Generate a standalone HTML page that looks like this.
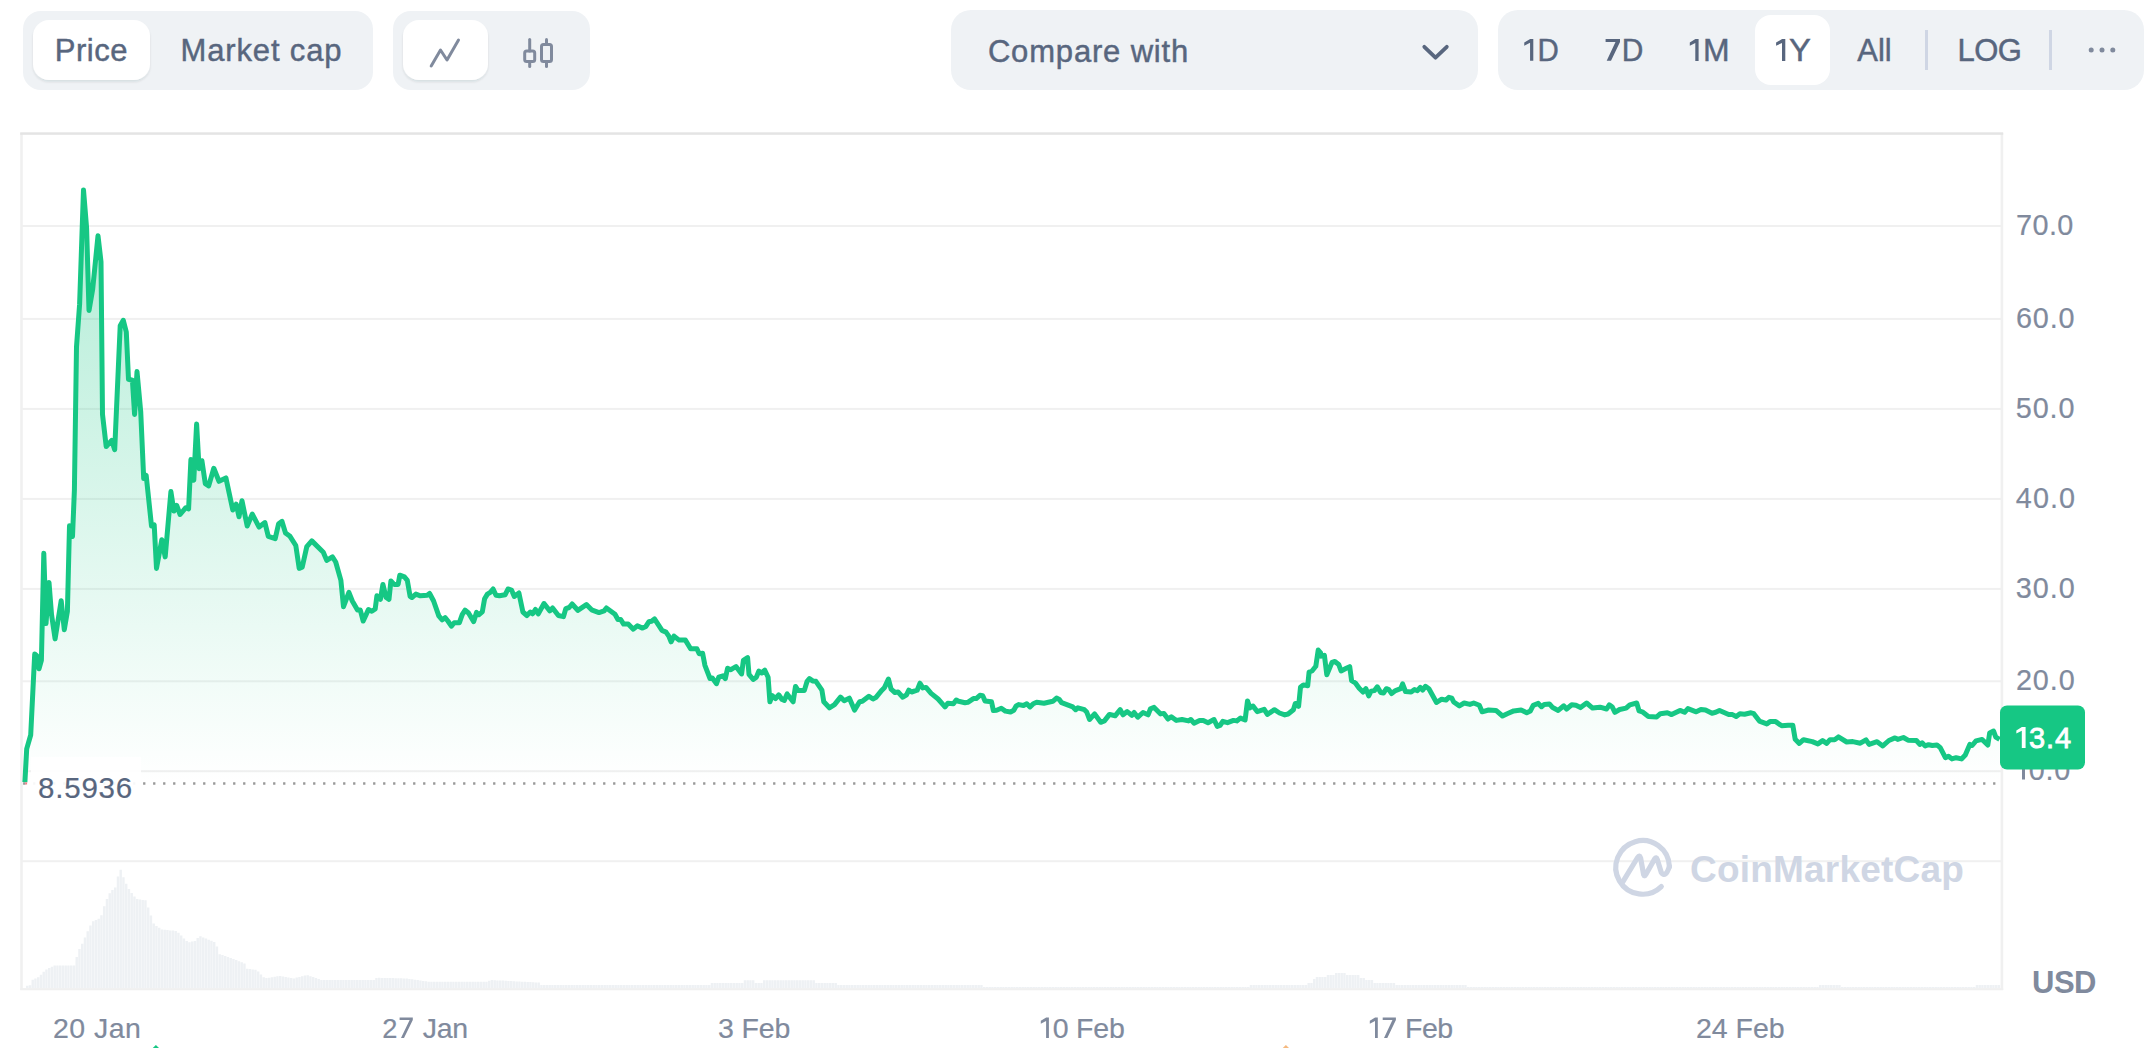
<!DOCTYPE html>
<html><head><meta charset="utf-8"><title>Chart</title>
<style>
html,body{margin:0;padding:0;background:#fff;width:2153px;height:1048px;overflow:hidden}
svg{display:block;font-family:"Liberation Sans",sans-serif}
.t{fill:#58667e;font-size:31px;stroke:#58667e;stroke-width:0.7px;paint-order:stroke}
.ax{fill:#808a9d;font-size:28px;stroke:#808a9d;stroke-width:0.35px}
</style></head><body>
<svg width="2153" height="1048" viewBox="0 0 2153 1048">
<defs>
<linearGradient id="gf" gradientUnits="userSpaceOnUse" x1="0" y1="190" x2="0" y2="783">
<stop offset="0" stop-color="#16c784" stop-opacity="0.34"/>
<stop offset="1" stop-color="#16c784" stop-opacity="0"/>
</linearGradient>
<filter id="sh" x="-20%" y="-20%" width="140%" height="150%">
<feDropShadow dx="0" dy="2" stdDeviation="1.1" flood-color="#1e2a40" flood-opacity="0.10"/>
</filter>
</defs>

<rect x="23" y="11" width="350" height="79" rx="18" fill="#eff2f5"/>
<rect x="33" y="20" width="117" height="60" rx="16" fill="#fff" filter="url(#sh)"/>
<text x="54.8" y="61" font-size="31" font-weight="normal" fill="#58667e" stroke="#58667e" stroke-width="0.45" textLength="72.74" lengthAdjust="spacing">Price</text>
<text x="180.6" y="61" font-size="31" font-weight="normal" fill="#58667e" stroke="#58667e" stroke-width="0.45" textLength="160.94" lengthAdjust="spacing">Market cap</text>
<rect x="393" y="11" width="197" height="79" rx="18" fill="#eff2f5"/>
<rect x="403" y="20" width="85" height="60" rx="16" fill="#fff" filter="url(#sh)"/>
<polyline points="431.2,66 440.5,50 447,60 458.5,40" fill="none" stroke="#808a9d" stroke-width="3" stroke-linecap="round" stroke-linejoin="round"/>
<g fill="none" stroke="#808a9d" stroke-width="3" stroke-linecap="round"><line x1="529.7" y1="39.5" x2="529.7" y2="51"/><line x1="529.7" y1="61.5" x2="529.7" y2="66.5"/><rect x="524.7" y="51" width="10" height="10.5" rx="2"/><line x1="546.5" y1="39.5" x2="546.5" y2="44.5"/><line x1="546.5" y1="61.5" x2="546.5" y2="66.5"/><rect x="541.5" y="44.5" width="10" height="17" rx="2"/></g>
<rect x="951" y="10" width="527" height="80" rx="20" fill="#eff2f5"/>
<text x="987.9" y="61.6" font-size="31" font-weight="normal" fill="#58667e" stroke="#58667e" stroke-width="0.45" textLength="200.35" lengthAdjust="spacing">Compare with</text>
<polyline points="1424.3,46.8 1435.5,57.7 1446.8,46.8" fill="none" stroke="#58667e" stroke-width="3.8" stroke-linecap="round" stroke-linejoin="round"/>
<rect x="1498" y="10" width="646" height="80" rx="20" fill="#eff2f5"/>
<rect x="1755" y="15" width="75" height="70" rx="16" fill="#fff"/>
<text x="1537.5" y="61.2" font-size="31" font-weight="normal" fill="#58667e" stroke="#58667e" stroke-width="0.45" textLength="21.29" lengthAdjust="spacingAndGlyphs">D</text>
<text x="1621.8" y="61.2" font-size="31" font-weight="normal" fill="#58667e" stroke="#58667e" stroke-width="0.45" textLength="21.59" lengthAdjust="spacingAndGlyphs">D</text>
<text x="1702.95" y="61.2" font-size="31" font-weight="normal" fill="#58667e" stroke="#58667e" stroke-width="0.45" textLength="26.58" lengthAdjust="spacingAndGlyphs">M</text>
<text x="1788.9" y="61.2" font-size="31" font-weight="normal" fill="#58667e" stroke="#58667e" stroke-width="0.45" textLength="21.89" lengthAdjust="spacingAndGlyphs">Y</text>
<text x="1857.2" y="61.2" font-size="31" font-weight="normal" fill="#58667e" stroke="#58667e" stroke-width="0.45" textLength="34.55" lengthAdjust="spacing">All</text>
<text x="1957.5" y="61.2" font-size="31" font-weight="normal" fill="#58667e" stroke="#58667e" stroke-width="0.45" textLength="64.27" lengthAdjust="spacing">LOG</text>
<path d="M1533.30,39.04 L1533.30,60.87 L1530.06,60.87 L1530.06,42.86 L1524.26,45.76 L1524.26,42.55 L1530.16,39.04 Z" fill="#58667e"/>
<path d="M1605.60,38.90 L1620.00,38.90 L1620.00,42.10 L1611.00,60.80 L1606.70,60.80 L1615.49,42.10 L1605.60,42.10 Z" fill="#58667e"/>
<path d="M1698.60,39.05 L1698.60,61.00 L1695.30,61.00 L1695.30,42.89 L1689.80,45.81 L1689.80,42.58 L1695.40,39.05 Z" fill="#58667e"/>
<path d="M1785.30,39.05 L1785.30,61.00 L1782.00,61.00 L1782.00,42.89 L1776.10,45.81 L1776.10,42.58 L1782.10,39.05 Z" fill="#58667e"/>
<rect x="1925" y="30" width="3" height="40" fill="#cfd6e4"/>
<rect x="2049" y="30" width="3" height="40" fill="#cfd6e4"/>
<circle cx="2091.2" cy="50" r="2.5" fill="#808a9d"/>
<circle cx="2102" cy="50" r="2.5" fill="#808a9d"/>
<circle cx="2112.8" cy="50" r="2.5" fill="#808a9d"/>
<rect x="22" y="225.0" width="1979" height="2" fill="#f0f0f0"/>
<rect x="22" y="317.9" width="1979" height="2" fill="#f0f0f0"/>
<rect x="22" y="407.9" width="1979" height="2" fill="#f0f0f0"/>
<rect x="22" y="497.9" width="1979" height="2" fill="#f0f0f0"/>
<rect x="22" y="587.9" width="1979" height="2" fill="#f0f0f0"/>
<rect x="22" y="680.3" width="1979" height="2" fill="#f0f0f0"/>
<rect x="22" y="770.2" width="1979" height="2" fill="#f0f0f0"/>
<rect x="22" y="860.2" width="1979" height="2" fill="#f0f0f0"/>
<rect x="20.2" y="133" width="2.6" height="857" fill="#f0f0f0"/>
<rect x="2000.6" y="133" width="2.6" height="857" fill="#f0f0f0"/>
<rect x="20.2" y="988.1" width="1983" height="2.2" fill="#f0f0f0"/>
<rect x="20.2" y="132.3" width="1983" height="2.5" fill="#e4e4e4"/>
<path d="M26.00,985.7h2.4V988h-2.4ZM28.75,985.2h2.4V988h-2.4ZM31.50,979.8h2.4V988h-2.4ZM34.25,978.5h2.4V988h-2.4ZM37.00,977.3h2.4V988h-2.4ZM39.75,974.7h2.4V988h-2.4ZM42.50,971.7h2.4V988h-2.4ZM45.25,969.4h2.4V988h-2.4ZM48.00,968.0h2.4V988h-2.4ZM50.75,966.7h2.4V988h-2.4ZM53.50,965.4h2.4V988h-2.4ZM56.25,965.4h2.4V988h-2.4ZM59.00,965.4h2.4V988h-2.4ZM61.75,965.4h2.4V988h-2.4ZM64.50,965.4h2.4V988h-2.4ZM67.25,965.4h2.4V988h-2.4ZM70.00,965.4h2.4V988h-2.4ZM72.75,965.4h2.4V988h-2.4ZM75.50,956.9h2.4V988h-2.4ZM78.25,948.9h2.4V988h-2.4ZM81.00,943.7h2.4V988h-2.4ZM83.75,937.6h2.4V988h-2.4ZM86.50,931.2h2.4V988h-2.4ZM89.25,925.6h2.4V988h-2.4ZM92.00,921.2h2.4V988h-2.4ZM94.75,920.0h2.4V988h-2.4ZM97.50,918.8h2.4V988h-2.4ZM100.25,915.2h2.4V988h-2.4ZM103.00,906.2h2.4V988h-2.4ZM105.75,899.0h2.4V988h-2.4ZM108.50,893.2h2.4V988h-2.4ZM111.25,890.0h2.4V988h-2.4ZM114.00,887.4h2.4V988h-2.4ZM116.75,876.5h2.4V988h-2.4ZM119.50,869.7h2.4V988h-2.4ZM122.25,877.3h2.4V988h-2.4ZM125.00,883.7h2.4V988h-2.4ZM127.75,889.0h2.4V988h-2.4ZM130.50,893.0h2.4V988h-2.4ZM133.25,896.5h2.4V988h-2.4ZM136.00,899.0h2.4V988h-2.4ZM138.75,899.4h2.4V988h-2.4ZM141.50,899.9h2.4V988h-2.4ZM144.25,900.3h2.4V988h-2.4ZM147.00,907.4h2.4V988h-2.4ZM149.75,915.4h2.4V988h-2.4ZM152.50,923.4h2.4V988h-2.4ZM155.25,926.1h2.4V988h-2.4ZM158.00,927.8h2.4V988h-2.4ZM160.75,929.4h2.4V988h-2.4ZM163.50,929.8h2.4V988h-2.4ZM166.25,930.1h2.4V988h-2.4ZM169.00,930.4h2.4V988h-2.4ZM171.75,930.6h2.4V988h-2.4ZM174.50,930.9h2.4V988h-2.4ZM177.25,932.7h2.4V988h-2.4ZM180.00,935.6h2.4V988h-2.4ZM182.75,938.5h2.4V988h-2.4ZM185.50,941.1h2.4V988h-2.4ZM188.25,942.3h2.4V988h-2.4ZM191.00,941.6h2.4V988h-2.4ZM193.75,940.9h2.4V988h-2.4ZM196.50,938.1h2.4V988h-2.4ZM199.25,936.3h2.4V988h-2.4ZM202.00,937.4h2.4V988h-2.4ZM204.75,938.5h2.4V988h-2.4ZM207.50,939.7h2.4V988h-2.4ZM210.25,940.8h2.4V988h-2.4ZM213.00,941.9h2.4V988h-2.4ZM215.75,946.5h2.4V988h-2.4ZM218.50,954.2h2.4V988h-2.4ZM221.25,955.1h2.4V988h-2.4ZM224.00,956.1h2.4V988h-2.4ZM226.75,957.0h2.4V988h-2.4ZM229.50,957.9h2.4V988h-2.4ZM232.25,958.9h2.4V988h-2.4ZM235.00,960.0h2.4V988h-2.4ZM237.75,961.2h2.4V988h-2.4ZM240.50,962.3h2.4V988h-2.4ZM243.25,963.5h2.4V988h-2.4ZM246.00,968.8h2.4V988h-2.4ZM248.75,969.1h2.4V988h-2.4ZM251.50,969.5h2.4V988h-2.4ZM254.25,969.8h2.4V988h-2.4ZM257.00,971.5h2.4V988h-2.4ZM259.75,974.4h2.4V988h-2.4ZM262.50,977.2h2.4V988h-2.4ZM265.25,978.1h2.4V988h-2.4ZM268.00,977.7h2.4V988h-2.4ZM270.75,977.2h2.4V988h-2.4ZM273.50,976.8h2.4V988h-2.4ZM276.25,976.3h2.4V988h-2.4ZM279.00,976.1h2.4V988h-2.4ZM281.75,976.6h2.4V988h-2.4ZM284.50,977.0h2.4V988h-2.4ZM287.25,977.5h2.4V988h-2.4ZM290.00,978.0h2.4V988h-2.4ZM292.75,978.4h2.4V988h-2.4ZM295.50,977.6h2.4V988h-2.4ZM298.25,976.9h2.4V988h-2.4ZM301.00,976.2h2.4V988h-2.4ZM303.75,975.5h2.4V988h-2.4ZM306.50,975.3h2.4V988h-2.4ZM309.25,976.2h2.4V988h-2.4ZM312.00,977.1h2.4V988h-2.4ZM314.75,978.0h2.4V988h-2.4ZM317.50,979.0h2.4V988h-2.4ZM320.25,979.9h2.4V988h-2.4ZM323.00,980.0h2.4V988h-2.4ZM325.75,980.0h2.4V988h-2.4ZM328.50,980.0h2.4V988h-2.4ZM331.25,980.0h2.4V988h-2.4ZM334.00,980.0h2.4V988h-2.4ZM336.75,980.0h2.4V988h-2.4ZM339.50,980.0h2.4V988h-2.4ZM342.25,980.0h2.4V988h-2.4ZM345.00,980.0h2.4V988h-2.4ZM347.75,980.0h2.4V988h-2.4ZM350.50,980.0h2.4V988h-2.4ZM353.25,980.0h2.4V988h-2.4ZM356.00,980.0h2.4V988h-2.4ZM358.75,980.0h2.4V988h-2.4ZM361.50,980.0h2.4V988h-2.4ZM364.25,980.0h2.4V988h-2.4ZM367.00,980.0h2.4V988h-2.4ZM369.75,980.0h2.4V988h-2.4ZM372.50,980.0h2.4V988h-2.4ZM375.25,978.1h2.4V988h-2.4ZM378.00,977.8h2.4V988h-2.4ZM380.75,977.9h2.4V988h-2.4ZM383.50,978.0h2.4V988h-2.4ZM386.25,978.0h2.4V988h-2.4ZM389.00,978.1h2.4V988h-2.4ZM391.75,978.1h2.4V988h-2.4ZM394.50,978.2h2.4V988h-2.4ZM397.25,978.2h2.4V988h-2.4ZM400.00,978.3h2.4V988h-2.4ZM402.75,978.4h2.4V988h-2.4ZM405.50,978.5h2.4V988h-2.4ZM408.25,978.9h2.4V988h-2.4ZM411.00,979.3h2.4V988h-2.4ZM413.75,979.7h2.4V988h-2.4ZM416.50,980.1h2.4V988h-2.4ZM419.25,980.5h2.4V988h-2.4ZM422.00,980.9h2.4V988h-2.4ZM424.75,981.3h2.4V988h-2.4ZM427.50,981.7h2.4V988h-2.4ZM430.25,981.7h2.4V988h-2.4ZM433.00,981.7h2.4V988h-2.4ZM435.75,981.7h2.4V988h-2.4ZM438.50,981.7h2.4V988h-2.4ZM441.25,981.7h2.4V988h-2.4ZM444.00,981.7h2.4V988h-2.4ZM446.75,981.7h2.4V988h-2.4ZM449.50,981.7h2.4V988h-2.4ZM452.25,981.7h2.4V988h-2.4ZM455.00,981.7h2.4V988h-2.4ZM457.75,981.7h2.4V988h-2.4ZM460.50,981.7h2.4V988h-2.4ZM463.25,981.7h2.4V988h-2.4ZM466.00,981.7h2.4V988h-2.4ZM468.75,981.7h2.4V988h-2.4ZM471.50,981.7h2.4V988h-2.4ZM474.25,981.7h2.4V988h-2.4ZM477.00,981.7h2.4V988h-2.4ZM479.75,981.7h2.4V988h-2.4ZM482.50,981.7h2.4V988h-2.4ZM485.25,981.7h2.4V988h-2.4ZM488.00,980.8h2.4V988h-2.4ZM490.75,980.1h2.4V988h-2.4ZM493.50,980.2h2.4V988h-2.4ZM496.25,980.4h2.4V988h-2.4ZM499.00,980.5h2.4V988h-2.4ZM501.75,980.6h2.4V988h-2.4ZM504.50,980.8h2.4V988h-2.4ZM507.25,980.9h2.4V988h-2.4ZM510.00,981.1h2.4V988h-2.4ZM512.75,981.2h2.4V988h-2.4ZM515.50,981.4h2.4V988h-2.4ZM518.25,981.5h2.4V988h-2.4ZM521.00,981.7h2.4V988h-2.4ZM523.75,981.8h2.4V988h-2.4ZM526.50,982.0h2.4V988h-2.4ZM529.25,982.1h2.4V988h-2.4ZM532.00,982.2h2.4V988h-2.4ZM534.75,982.4h2.4V988h-2.4ZM537.50,982.5h2.4V988h-2.4ZM540.25,985.0h2.4V988h-2.4ZM543.00,985.0h2.4V988h-2.4ZM545.75,985.0h2.4V988h-2.4ZM548.50,985.0h2.4V988h-2.4ZM551.25,985.0h2.4V988h-2.4ZM554.00,985.0h2.4V988h-2.4ZM556.75,985.0h2.4V988h-2.4ZM559.50,985.0h2.4V988h-2.4ZM562.25,985.0h2.4V988h-2.4ZM565.00,985.0h2.4V988h-2.4ZM567.75,985.0h2.4V988h-2.4ZM570.50,985.0h2.4V988h-2.4ZM573.25,985.0h2.4V988h-2.4ZM576.00,985.0h2.4V988h-2.4ZM578.75,985.0h2.4V988h-2.4ZM581.50,985.0h2.4V988h-2.4ZM584.25,985.0h2.4V988h-2.4ZM587.00,985.0h2.4V988h-2.4ZM589.75,985.0h2.4V988h-2.4ZM592.50,985.0h2.4V988h-2.4ZM595.25,985.0h2.4V988h-2.4ZM598.00,985.0h2.4V988h-2.4ZM600.75,985.0h2.4V988h-2.4ZM603.50,985.0h2.4V988h-2.4ZM606.25,985.0h2.4V988h-2.4ZM609.00,985.0h2.4V988h-2.4ZM611.75,985.0h2.4V988h-2.4ZM614.50,985.0h2.4V988h-2.4ZM617.25,985.0h2.4V988h-2.4ZM620.00,985.0h2.4V988h-2.4ZM622.75,985.0h2.4V988h-2.4ZM625.50,985.0h2.4V988h-2.4ZM628.25,985.0h2.4V988h-2.4ZM631.00,985.0h2.4V988h-2.4ZM633.75,985.0h2.4V988h-2.4ZM636.50,985.0h2.4V988h-2.4ZM639.25,985.0h2.4V988h-2.4ZM642.00,985.0h2.4V988h-2.4ZM644.75,985.0h2.4V988h-2.4ZM647.50,985.0h2.4V988h-2.4ZM650.25,985.0h2.4V988h-2.4ZM653.00,985.0h2.4V988h-2.4ZM655.75,985.0h2.4V988h-2.4ZM658.50,985.0h2.4V988h-2.4ZM661.25,985.0h2.4V988h-2.4ZM664.00,985.0h2.4V988h-2.4ZM666.75,985.0h2.4V988h-2.4ZM669.50,985.0h2.4V988h-2.4ZM672.25,985.0h2.4V988h-2.4ZM675.00,985.0h2.4V988h-2.4ZM677.75,985.0h2.4V988h-2.4ZM680.50,985.0h2.4V988h-2.4ZM683.25,985.0h2.4V988h-2.4ZM686.00,985.0h2.4V988h-2.4ZM688.75,985.0h2.4V988h-2.4ZM691.50,985.0h2.4V988h-2.4ZM694.25,985.0h2.4V988h-2.4ZM697.00,985.0h2.4V988h-2.4ZM699.75,985.0h2.4V988h-2.4ZM702.50,985.0h2.4V988h-2.4ZM705.25,985.0h2.4V988h-2.4ZM708.00,985.0h2.4V988h-2.4ZM710.75,983.0h2.4V988h-2.4ZM713.50,983.0h2.4V988h-2.4ZM716.25,983.0h2.4V988h-2.4ZM719.00,983.0h2.4V988h-2.4ZM721.75,983.0h2.4V988h-2.4ZM724.50,983.0h2.4V988h-2.4ZM727.25,983.0h2.4V988h-2.4ZM730.00,983.0h2.4V988h-2.4ZM732.75,983.0h2.4V988h-2.4ZM735.50,983.0h2.4V988h-2.4ZM738.25,983.0h2.4V988h-2.4ZM741.00,983.0h2.4V988h-2.4ZM743.75,980.3h2.4V988h-2.4ZM746.50,980.3h2.4V988h-2.4ZM749.25,980.3h2.4V988h-2.4ZM752.00,980.3h2.4V988h-2.4ZM754.75,983.0h2.4V988h-2.4ZM757.50,983.0h2.4V988h-2.4ZM760.25,983.0h2.4V988h-2.4ZM763.00,980.3h2.4V988h-2.4ZM765.75,980.3h2.4V988h-2.4ZM768.50,980.3h2.4V988h-2.4ZM771.25,980.3h2.4V988h-2.4ZM774.00,980.3h2.4V988h-2.4ZM776.75,980.3h2.4V988h-2.4ZM779.50,980.3h2.4V988h-2.4ZM782.25,980.3h2.4V988h-2.4ZM785.00,980.3h2.4V988h-2.4ZM787.75,980.3h2.4V988h-2.4ZM790.50,980.3h2.4V988h-2.4ZM793.25,980.3h2.4V988h-2.4ZM796.00,980.3h2.4V988h-2.4ZM798.75,980.3h2.4V988h-2.4ZM801.50,980.3h2.4V988h-2.4ZM804.25,980.3h2.4V988h-2.4ZM807.00,980.3h2.4V988h-2.4ZM809.75,980.3h2.4V988h-2.4ZM812.50,980.3h2.4V988h-2.4ZM815.25,983.0h2.4V988h-2.4ZM818.00,983.0h2.4V988h-2.4ZM820.75,983.0h2.4V988h-2.4ZM823.50,983.0h2.4V988h-2.4ZM826.25,983.0h2.4V988h-2.4ZM829.00,983.0h2.4V988h-2.4ZM831.75,983.0h2.4V988h-2.4ZM834.50,983.0h2.4V988h-2.4ZM837.25,985.0h2.4V988h-2.4ZM840.00,985.0h2.4V988h-2.4ZM842.75,985.0h2.4V988h-2.4ZM845.50,985.0h2.4V988h-2.4ZM848.25,985.0h2.4V988h-2.4ZM851.00,985.0h2.4V988h-2.4ZM853.75,985.0h2.4V988h-2.4ZM856.50,985.0h2.4V988h-2.4ZM859.25,985.0h2.4V988h-2.4ZM862.00,985.0h2.4V988h-2.4ZM864.75,985.0h2.4V988h-2.4ZM867.50,985.0h2.4V988h-2.4ZM870.25,985.0h2.4V988h-2.4ZM873.00,985.0h2.4V988h-2.4ZM875.75,985.0h2.4V988h-2.4ZM878.50,985.0h2.4V988h-2.4ZM881.25,985.0h2.4V988h-2.4ZM884.00,985.0h2.4V988h-2.4ZM886.75,985.0h2.4V988h-2.4ZM889.50,985.0h2.4V988h-2.4ZM892.25,985.0h2.4V988h-2.4ZM895.00,985.0h2.4V988h-2.4ZM897.75,985.0h2.4V988h-2.4ZM900.50,985.0h2.4V988h-2.4ZM903.25,985.0h2.4V988h-2.4ZM906.00,985.0h2.4V988h-2.4ZM908.75,985.0h2.4V988h-2.4ZM911.50,985.0h2.4V988h-2.4ZM914.25,985.0h2.4V988h-2.4ZM917.00,985.0h2.4V988h-2.4ZM919.75,985.0h2.4V988h-2.4ZM922.50,985.0h2.4V988h-2.4ZM925.25,985.0h2.4V988h-2.4ZM928.00,985.0h2.4V988h-2.4ZM930.75,985.0h2.4V988h-2.4ZM933.50,985.0h2.4V988h-2.4ZM936.25,985.0h2.4V988h-2.4ZM939.00,985.0h2.4V988h-2.4ZM941.75,985.0h2.4V988h-2.4ZM944.50,985.0h2.4V988h-2.4ZM947.25,985.0h2.4V988h-2.4ZM950.00,985.0h2.4V988h-2.4ZM952.75,985.0h2.4V988h-2.4ZM955.50,985.0h2.4V988h-2.4ZM958.25,985.0h2.4V988h-2.4ZM961.00,985.0h2.4V988h-2.4ZM963.75,985.0h2.4V988h-2.4ZM966.50,985.0h2.4V988h-2.4ZM969.25,985.0h2.4V988h-2.4ZM972.00,985.0h2.4V988h-2.4ZM974.75,985.0h2.4V988h-2.4ZM977.50,985.0h2.4V988h-2.4ZM980.25,985.0h2.4V988h-2.4ZM983.00,987.0h2.4V988h-2.4ZM985.75,987.0h2.4V988h-2.4ZM988.50,987.0h2.4V988h-2.4ZM991.25,987.0h2.4V988h-2.4ZM994.00,987.0h2.4V988h-2.4ZM996.75,987.0h2.4V988h-2.4ZM999.50,987.0h2.4V988h-2.4ZM1002.25,987.0h2.4V988h-2.4ZM1005.00,987.0h2.4V988h-2.4ZM1007.75,987.0h2.4V988h-2.4ZM1010.50,987.0h2.4V988h-2.4ZM1013.25,987.0h2.4V988h-2.4ZM1016.00,987.0h2.4V988h-2.4ZM1018.75,987.0h2.4V988h-2.4ZM1021.50,987.0h2.4V988h-2.4ZM1024.25,987.0h2.4V988h-2.4ZM1027.00,987.0h2.4V988h-2.4ZM1029.75,987.0h2.4V988h-2.4ZM1032.50,987.0h2.4V988h-2.4ZM1035.25,987.0h2.4V988h-2.4ZM1038.00,987.0h2.4V988h-2.4ZM1040.75,987.0h2.4V988h-2.4ZM1043.50,987.0h2.4V988h-2.4ZM1046.25,987.0h2.4V988h-2.4ZM1049.00,987.0h2.4V988h-2.4ZM1051.75,987.0h2.4V988h-2.4ZM1054.50,987.0h2.4V988h-2.4ZM1057.25,987.0h2.4V988h-2.4ZM1060.00,987.0h2.4V988h-2.4ZM1062.75,987.0h2.4V988h-2.4ZM1065.50,987.0h2.4V988h-2.4ZM1068.25,987.0h2.4V988h-2.4ZM1071.00,987.0h2.4V988h-2.4ZM1073.75,987.0h2.4V988h-2.4ZM1076.50,987.0h2.4V988h-2.4ZM1079.25,987.0h2.4V988h-2.4ZM1082.00,987.0h2.4V988h-2.4ZM1084.75,987.0h2.4V988h-2.4ZM1087.50,987.0h2.4V988h-2.4ZM1090.25,987.0h2.4V988h-2.4ZM1093.00,987.0h2.4V988h-2.4ZM1095.75,987.0h2.4V988h-2.4ZM1098.50,987.0h2.4V988h-2.4ZM1101.25,987.0h2.4V988h-2.4ZM1104.00,987.0h2.4V988h-2.4ZM1106.75,987.0h2.4V988h-2.4ZM1109.50,987.0h2.4V988h-2.4ZM1112.25,987.0h2.4V988h-2.4ZM1115.00,987.0h2.4V988h-2.4ZM1117.75,987.0h2.4V988h-2.4ZM1120.50,987.0h2.4V988h-2.4ZM1123.25,987.0h2.4V988h-2.4ZM1126.00,987.0h2.4V988h-2.4ZM1128.75,987.0h2.4V988h-2.4ZM1131.50,987.0h2.4V988h-2.4ZM1134.25,987.0h2.4V988h-2.4ZM1137.00,987.0h2.4V988h-2.4ZM1139.75,987.0h2.4V988h-2.4ZM1142.50,987.0h2.4V988h-2.4ZM1145.25,987.0h2.4V988h-2.4ZM1148.00,987.0h2.4V988h-2.4ZM1150.75,987.0h2.4V988h-2.4ZM1153.50,987.0h2.4V988h-2.4ZM1156.25,987.0h2.4V988h-2.4ZM1159.00,987.0h2.4V988h-2.4ZM1161.75,987.0h2.4V988h-2.4ZM1164.50,987.0h2.4V988h-2.4ZM1167.25,987.0h2.4V988h-2.4ZM1170.00,987.0h2.4V988h-2.4ZM1172.75,987.0h2.4V988h-2.4ZM1175.50,987.0h2.4V988h-2.4ZM1178.25,987.0h2.4V988h-2.4ZM1181.00,987.0h2.4V988h-2.4ZM1183.75,987.0h2.4V988h-2.4ZM1186.50,987.0h2.4V988h-2.4ZM1189.25,987.0h2.4V988h-2.4ZM1192.00,987.0h2.4V988h-2.4ZM1194.75,987.0h2.4V988h-2.4ZM1197.50,987.0h2.4V988h-2.4ZM1200.25,987.0h2.4V988h-2.4ZM1203.00,987.0h2.4V988h-2.4ZM1205.75,987.0h2.4V988h-2.4ZM1208.50,987.0h2.4V988h-2.4ZM1211.25,987.0h2.4V988h-2.4ZM1214.00,987.0h2.4V988h-2.4ZM1216.75,987.0h2.4V988h-2.4ZM1219.50,987.0h2.4V988h-2.4ZM1222.25,987.0h2.4V988h-2.4ZM1225.00,987.0h2.4V988h-2.4ZM1227.75,987.0h2.4V988h-2.4ZM1230.50,987.0h2.4V988h-2.4ZM1233.25,987.0h2.4V988h-2.4ZM1236.00,987.0h2.4V988h-2.4ZM1238.75,987.0h2.4V988h-2.4ZM1241.50,987.0h2.4V988h-2.4ZM1244.25,987.0h2.4V988h-2.4ZM1247.00,987.0h2.4V988h-2.4ZM1249.75,985.0h2.4V988h-2.4ZM1252.50,985.0h2.4V988h-2.4ZM1255.25,985.0h2.4V988h-2.4ZM1258.00,985.0h2.4V988h-2.4ZM1260.75,985.0h2.4V988h-2.4ZM1263.50,985.0h2.4V988h-2.4ZM1266.25,985.0h2.4V988h-2.4ZM1269.00,985.0h2.4V988h-2.4ZM1271.75,985.0h2.4V988h-2.4ZM1274.50,985.0h2.4V988h-2.4ZM1277.25,985.0h2.4V988h-2.4ZM1280.00,985.0h2.4V988h-2.4ZM1282.75,985.0h2.4V988h-2.4ZM1285.50,985.0h2.4V988h-2.4ZM1288.25,985.0h2.4V988h-2.4ZM1291.00,985.0h2.4V988h-2.4ZM1293.75,985.0h2.4V988h-2.4ZM1296.50,985.0h2.4V988h-2.4ZM1299.25,985.0h2.4V988h-2.4ZM1302.00,985.0h2.4V988h-2.4ZM1304.75,985.0h2.4V988h-2.4ZM1307.50,983.0h2.4V988h-2.4ZM1310.25,983.0h2.4V988h-2.4ZM1313.00,979.0h2.4V988h-2.4ZM1315.75,977.0h2.4V988h-2.4ZM1318.50,977.0h2.4V988h-2.4ZM1321.25,977.0h2.4V988h-2.4ZM1324.00,977.0h2.4V988h-2.4ZM1326.75,975.0h2.4V988h-2.4ZM1329.50,975.0h2.4V988h-2.4ZM1332.25,975.0h2.4V988h-2.4ZM1335.00,973.0h2.4V988h-2.4ZM1337.75,973.0h2.4V988h-2.4ZM1340.50,973.0h2.4V988h-2.4ZM1343.25,973.0h2.4V988h-2.4ZM1346.00,975.0h2.4V988h-2.4ZM1348.75,975.0h2.4V988h-2.4ZM1351.50,975.0h2.4V988h-2.4ZM1354.25,975.0h2.4V988h-2.4ZM1357.00,975.0h2.4V988h-2.4ZM1359.75,978.0h2.4V988h-2.4ZM1362.50,978.0h2.4V988h-2.4ZM1365.25,980.0h2.4V988h-2.4ZM1368.00,980.0h2.4V988h-2.4ZM1370.75,980.0h2.4V988h-2.4ZM1373.50,983.0h2.4V988h-2.4ZM1376.25,983.0h2.4V988h-2.4ZM1379.00,983.0h2.4V988h-2.4ZM1381.75,983.0h2.4V988h-2.4ZM1384.50,983.0h2.4V988h-2.4ZM1387.25,983.0h2.4V988h-2.4ZM1390.00,983.0h2.4V988h-2.4ZM1392.75,983.0h2.4V988h-2.4ZM1395.50,985.0h2.4V988h-2.4ZM1398.25,985.0h2.4V988h-2.4ZM1401.00,985.0h2.4V988h-2.4ZM1403.75,985.0h2.4V988h-2.4ZM1406.50,985.0h2.4V988h-2.4ZM1409.25,985.0h2.4V988h-2.4ZM1412.00,985.0h2.4V988h-2.4ZM1414.75,985.0h2.4V988h-2.4ZM1417.50,985.0h2.4V988h-2.4ZM1420.25,985.0h2.4V988h-2.4ZM1423.00,985.0h2.4V988h-2.4ZM1425.75,985.0h2.4V988h-2.4ZM1428.50,985.0h2.4V988h-2.4ZM1431.25,985.0h2.4V988h-2.4ZM1434.00,985.0h2.4V988h-2.4ZM1436.75,985.0h2.4V988h-2.4ZM1439.50,985.0h2.4V988h-2.4ZM1442.25,985.0h2.4V988h-2.4ZM1445.00,985.0h2.4V988h-2.4ZM1447.75,985.0h2.4V988h-2.4ZM1450.50,985.0h2.4V988h-2.4ZM1453.25,985.0h2.4V988h-2.4ZM1456.00,985.0h2.4V988h-2.4ZM1458.75,985.0h2.4V988h-2.4ZM1461.50,985.0h2.4V988h-2.4ZM1464.25,985.0h2.4V988h-2.4ZM1467.00,987.0h2.4V988h-2.4ZM1469.75,987.0h2.4V988h-2.4ZM1472.50,987.0h2.4V988h-2.4ZM1475.25,987.0h2.4V988h-2.4ZM1478.00,987.0h2.4V988h-2.4ZM1480.75,987.0h2.4V988h-2.4ZM1483.50,987.0h2.4V988h-2.4ZM1486.25,987.0h2.4V988h-2.4ZM1489.00,987.0h2.4V988h-2.4ZM1491.75,987.0h2.4V988h-2.4ZM1494.50,987.0h2.4V988h-2.4ZM1497.25,987.0h2.4V988h-2.4ZM1500.00,987.0h2.4V988h-2.4ZM1502.75,987.0h2.4V988h-2.4ZM1505.50,987.0h2.4V988h-2.4ZM1508.25,987.0h2.4V988h-2.4ZM1511.00,987.0h2.4V988h-2.4ZM1513.75,987.0h2.4V988h-2.4ZM1516.50,987.0h2.4V988h-2.4ZM1519.25,987.0h2.4V988h-2.4ZM1522.00,987.0h2.4V988h-2.4ZM1524.75,987.0h2.4V988h-2.4ZM1527.50,987.0h2.4V988h-2.4ZM1530.25,987.0h2.4V988h-2.4ZM1533.00,987.0h2.4V988h-2.4ZM1535.75,987.0h2.4V988h-2.4ZM1538.50,987.0h2.4V988h-2.4ZM1541.25,987.0h2.4V988h-2.4ZM1544.00,987.0h2.4V988h-2.4ZM1546.75,987.0h2.4V988h-2.4ZM1549.50,987.0h2.4V988h-2.4ZM1552.25,987.0h2.4V988h-2.4ZM1555.00,987.0h2.4V988h-2.4ZM1557.75,987.0h2.4V988h-2.4ZM1560.50,987.0h2.4V988h-2.4ZM1563.25,987.0h2.4V988h-2.4ZM1566.00,987.0h2.4V988h-2.4ZM1568.75,987.0h2.4V988h-2.4ZM1571.50,987.0h2.4V988h-2.4ZM1574.25,987.0h2.4V988h-2.4ZM1577.00,987.0h2.4V988h-2.4ZM1579.75,987.0h2.4V988h-2.4ZM1582.50,987.0h2.4V988h-2.4ZM1585.25,987.0h2.4V988h-2.4ZM1588.00,987.0h2.4V988h-2.4ZM1590.75,987.0h2.4V988h-2.4ZM1593.50,987.0h2.4V988h-2.4ZM1596.25,987.0h2.4V988h-2.4ZM1599.00,987.0h2.4V988h-2.4ZM1601.75,987.0h2.4V988h-2.4ZM1604.50,987.0h2.4V988h-2.4ZM1607.25,987.0h2.4V988h-2.4ZM1610.00,987.0h2.4V988h-2.4ZM1612.75,987.0h2.4V988h-2.4ZM1615.50,987.0h2.4V988h-2.4ZM1618.25,987.0h2.4V988h-2.4ZM1621.00,987.0h2.4V988h-2.4ZM1623.75,987.0h2.4V988h-2.4ZM1626.50,987.0h2.4V988h-2.4ZM1629.25,987.0h2.4V988h-2.4ZM1632.00,987.0h2.4V988h-2.4ZM1634.75,987.0h2.4V988h-2.4ZM1637.50,987.0h2.4V988h-2.4ZM1640.25,987.0h2.4V988h-2.4ZM1643.00,987.0h2.4V988h-2.4ZM1645.75,987.0h2.4V988h-2.4ZM1648.50,987.0h2.4V988h-2.4ZM1651.25,987.0h2.4V988h-2.4ZM1654.00,987.0h2.4V988h-2.4ZM1656.75,987.0h2.4V988h-2.4ZM1659.50,987.0h2.4V988h-2.4ZM1662.25,987.0h2.4V988h-2.4ZM1665.00,987.0h2.4V988h-2.4ZM1667.75,987.0h2.4V988h-2.4ZM1670.50,987.0h2.4V988h-2.4ZM1673.25,987.0h2.4V988h-2.4ZM1676.00,987.0h2.4V988h-2.4ZM1678.75,987.0h2.4V988h-2.4ZM1681.50,987.0h2.4V988h-2.4ZM1684.25,987.0h2.4V988h-2.4ZM1687.00,987.0h2.4V988h-2.4ZM1689.75,987.0h2.4V988h-2.4ZM1692.50,987.0h2.4V988h-2.4ZM1695.25,987.0h2.4V988h-2.4ZM1698.00,987.0h2.4V988h-2.4ZM1700.75,987.0h2.4V988h-2.4ZM1703.50,987.0h2.4V988h-2.4ZM1706.25,987.0h2.4V988h-2.4ZM1709.00,987.0h2.4V988h-2.4ZM1711.75,987.0h2.4V988h-2.4ZM1714.50,987.0h2.4V988h-2.4ZM1717.25,987.0h2.4V988h-2.4ZM1720.00,987.0h2.4V988h-2.4ZM1722.75,987.0h2.4V988h-2.4ZM1725.50,987.0h2.4V988h-2.4ZM1728.25,987.0h2.4V988h-2.4ZM1731.00,987.0h2.4V988h-2.4ZM1733.75,987.0h2.4V988h-2.4ZM1736.50,987.0h2.4V988h-2.4ZM1739.25,987.0h2.4V988h-2.4ZM1742.00,987.0h2.4V988h-2.4ZM1744.75,987.0h2.4V988h-2.4ZM1747.50,987.0h2.4V988h-2.4ZM1750.25,987.0h2.4V988h-2.4ZM1753.00,987.0h2.4V988h-2.4ZM1755.75,987.0h2.4V988h-2.4ZM1758.50,987.0h2.4V988h-2.4ZM1761.25,987.0h2.4V988h-2.4ZM1764.00,987.0h2.4V988h-2.4ZM1766.75,987.0h2.4V988h-2.4ZM1769.50,987.0h2.4V988h-2.4ZM1772.25,987.0h2.4V988h-2.4ZM1775.00,987.0h2.4V988h-2.4ZM1777.75,987.0h2.4V988h-2.4ZM1780.50,987.0h2.4V988h-2.4ZM1783.25,987.0h2.4V988h-2.4ZM1786.00,987.0h2.4V988h-2.4ZM1788.75,987.0h2.4V988h-2.4ZM1791.50,987.0h2.4V988h-2.4ZM1794.25,987.0h2.4V988h-2.4ZM1797.00,987.0h2.4V988h-2.4ZM1799.75,987.0h2.4V988h-2.4ZM1802.50,987.0h2.4V988h-2.4ZM1805.25,987.0h2.4V988h-2.4ZM1808.00,987.0h2.4V988h-2.4ZM1810.75,987.0h2.4V988h-2.4ZM1813.50,987.0h2.4V988h-2.4ZM1816.25,987.0h2.4V988h-2.4ZM1819.00,985.0h2.4V988h-2.4ZM1821.75,985.0h2.4V988h-2.4ZM1824.50,985.0h2.4V988h-2.4ZM1827.25,985.0h2.4V988h-2.4ZM1830.00,985.0h2.4V988h-2.4ZM1832.75,985.0h2.4V988h-2.4ZM1835.50,985.0h2.4V988h-2.4ZM1838.25,985.0h2.4V988h-2.4ZM1841.00,987.0h2.4V988h-2.4ZM1843.75,987.0h2.4V988h-2.4ZM1846.50,987.0h2.4V988h-2.4ZM1849.25,987.0h2.4V988h-2.4ZM1852.00,987.0h2.4V988h-2.4ZM1854.75,987.0h2.4V988h-2.4ZM1857.50,987.0h2.4V988h-2.4ZM1860.25,987.0h2.4V988h-2.4ZM1863.00,987.0h2.4V988h-2.4ZM1865.75,987.0h2.4V988h-2.4ZM1868.50,987.0h2.4V988h-2.4ZM1871.25,987.0h2.4V988h-2.4ZM1874.00,987.0h2.4V988h-2.4ZM1876.75,987.0h2.4V988h-2.4ZM1879.50,987.0h2.4V988h-2.4ZM1882.25,987.0h2.4V988h-2.4ZM1885.00,987.0h2.4V988h-2.4ZM1887.75,987.0h2.4V988h-2.4ZM1890.50,987.0h2.4V988h-2.4ZM1893.25,987.0h2.4V988h-2.4ZM1896.00,987.0h2.4V988h-2.4ZM1898.75,987.0h2.4V988h-2.4ZM1901.50,987.0h2.4V988h-2.4ZM1904.25,987.0h2.4V988h-2.4ZM1907.00,987.0h2.4V988h-2.4ZM1909.75,987.0h2.4V988h-2.4ZM1912.50,987.0h2.4V988h-2.4ZM1915.25,987.0h2.4V988h-2.4ZM1918.00,987.0h2.4V988h-2.4ZM1920.75,987.0h2.4V988h-2.4ZM1923.50,987.0h2.4V988h-2.4ZM1926.25,987.0h2.4V988h-2.4ZM1929.00,987.0h2.4V988h-2.4ZM1931.75,987.0h2.4V988h-2.4ZM1934.50,987.0h2.4V988h-2.4ZM1937.25,987.0h2.4V988h-2.4ZM1940.00,987.0h2.4V988h-2.4ZM1942.75,987.0h2.4V988h-2.4ZM1945.50,987.0h2.4V988h-2.4ZM1948.25,987.0h2.4V988h-2.4ZM1951.00,987.0h2.4V988h-2.4ZM1953.75,987.0h2.4V988h-2.4ZM1956.50,987.0h2.4V988h-2.4ZM1959.25,987.0h2.4V988h-2.4ZM1962.00,987.0h2.4V988h-2.4ZM1964.75,987.0h2.4V988h-2.4ZM1967.50,987.0h2.4V988h-2.4ZM1970.25,987.0h2.4V988h-2.4ZM1973.00,987.0h2.4V988h-2.4ZM1975.75,985.0h2.4V988h-2.4ZM1978.50,985.0h2.4V988h-2.4ZM1981.25,985.0h2.4V988h-2.4ZM1984.00,985.0h2.4V988h-2.4ZM1986.75,985.0h2.4V988h-2.4ZM1989.50,985.0h2.4V988h-2.4ZM1992.25,985.0h2.4V988h-2.4ZM1995.00,985.0h2.4V988h-2.4ZM1997.75,985.0h2.4V988h-2.4Z" fill="#eef1f4"/>
<g fill="none" stroke="#cfd6e4" stroke-width="5.2" stroke-linecap="round" stroke-linejoin="round"><path d="M1661.3,886.6 A26.8,26.8 0 1 1 1669.4,866.5"/><path d="M1622.8,881.8 L1637.6,857.5 Q1639.5,854.5 1640.6,858 L1643.6,874.5 Q1644.5,877 1645.8,874.6 L1654.6,859 Q1656.3,856.5 1657.3,859.5 L1661.3,872.5 Q1665.5,878.5 1669.4,866.5"/></g>
<text x="1690.0" y="882.2" font-size="37" font-weight="bold" fill="#cfd6e4" textLength="273.89" lengthAdjust="spacing">CoinMarketCap</text>
<path d="M24.9,782.2 L26.7,748.9 L30.7,735 L34.7,654 L36.8,655.7 L39,668.8 L41.4,660.3 L43.8,553.3 L46,623.6 L49,582.4 L51.5,614.4 L55.1,638.9 L61.2,600.7 L64.3,629.7 L67.4,611.4 L69.5,525.8 L72.5,536.5 L74.4,490.2 L76.5,347 L79.6,304.4 L83.5,189.9 L86.6,228 L89,310.5 L92.7,289 L98,235.7 L101,261.7 L102.5,414.4 L106.2,446.5 L111.7,440.4 L114.7,449.6 L120.2,325.8 L123.3,320.3 L126.3,332 L128.5,379.3 L132.4,380.2 L134.6,414.4 L137,371.6 L140.7,411.4 L143.7,478.6 L146.2,475.5 L151.5,526 L154.2,524.9 L156.5,568.4 L161.8,539.7 L165.2,556.9 L170.9,491.6 L173.9,511.1 L176.7,505.4 L180.1,514.5 L185.8,507.7 L188.6,508.8 L190.9,459.6 L193.8,480.2 L196.6,424 L199.1,468.7 L201.9,460.7 L205.3,483.6 L208.7,485.9 L213.8,468.3 L219,481.3 L225.9,477.9 L232.8,510 L236.2,504.2 L239,516.8 L242,500.8 L247.2,526 L252.3,514.1 L259.1,527.1 L264.9,522.6 L268.3,536.3 L275.2,538.6 L278.6,523.7 L282,521.4 L285.5,532.9 L290,536.3 L295.8,545.5 L299.2,568.4 L302.2,567.2 L306.8,546.6 L311.8,540.9 L323.3,552.3 L326.7,560.4 L332.4,556.9 L335.7,562 L340.9,580.4 L343.5,606.7 L348.9,592.4 L352.3,601 L357.5,610.1 L360.3,610.1 L363.2,621 L368.4,609.6 L371.8,611.3 L375.2,609 L376.9,595.8 L380.4,599.3 L382.9,584.4 L386.1,597.5 L389,599.3 L390.9,580.9 L394.1,584.4 L398.1,584.4 L399.8,575.2 L404.4,576.9 L407.3,580.4 L410.1,596.4 L411.9,597.5 L415.9,594.1 L420.4,595.8 L427.3,595.3 L429.6,593.5 L433.6,601 L438.8,615.9 L442.2,619.9 L445.1,617.6 L447.9,621 L451.4,626.2 L454.2,622.7 L459.4,622.7 L462.2,614.7 L465.1,610.1 L468.5,613 L473.7,621.6 L476.5,612.4 L478.8,614.7 L482.3,611.9 L484.6,598.7 L487.4,594.1 L490.3,592.4 L493.1,589 L496,595.3 L499.4,595.8 L505.2,594.7 L508,589 L511.5,590.1 L514.3,596.4 L518.9,593 L522.9,612 L526.9,615.5 L530.3,612 L532.6,613.8 L535.5,609.5 L538.3,613.8 L544,603.5 L549.8,610.9 L552.6,608 L558.4,615.5 L563.5,616.6 L565.8,608.6 L569.2,607.5 L572.1,604 L577.8,610.3 L586.4,604.6 L591.6,609.8 L599,612.6 L604.1,610.9 L606.4,608 L615,614.3 L617.9,619.5 L620.7,619.5 L623.6,624.1 L628.2,624.1 L633.3,629.2 L637.3,625.8 L642.5,628.1 L645.9,626.4 L648.8,621.8 L651.6,621.2 L654.5,618.9 L662,630.4 L666,632.1 L668.8,636.1 L671.1,641.8 L674,636.1 L679.1,640.1 L685.4,640.1 L690.6,648.7 L696.9,648.7 L699.2,653.8 L702.6,653.3 L704.9,665.3 L710,678.5 L712.3,678.1 L716.5,683.7 L718.8,677.2 L723,675.8 L725.3,678.6 L727.6,668.3 L730.9,669.7 L736,666.5 L741.6,673.9 L743.4,660.4 L747.6,657.6 L749,674.4 L753.2,679.5 L756.4,677.2 L758.8,671.1 L761.6,673 L764.8,670.2 L768.1,677.2 L769.9,701.8 L772.2,695.7 L775.5,698.5 L778.7,694.8 L782,699.5 L784.3,700.4 L787.1,693.9 L793.1,701.8 L795.5,686.4 L798.2,690.6 L804.3,690.6 L807.1,681.3 L809.4,678.6 L812.6,680.9 L815.9,681.3 L821.9,690.2 L823.8,701.8 L829.4,707.8 L834.5,704.6 L840.5,697.1 L844.2,700.8 L849.3,698.1 L854.5,710.1 L859.6,701.8 L862.3,701.3 L868.9,696.2 L873,699 L875.8,697.6 L881.9,690.2 L884.6,687.4 L888.4,679 L891.1,689.2 L894.9,692.5 L898.1,692 L902.8,697.2 L906.5,694.8 L908.8,690.2 L911.6,692 L917.2,690.2 L920,683.2 L922.8,687.9 L926,687.4 L931.1,693.4 L938.1,699 L945,706.9 L947.8,703.2 L953.4,703.7 L956.2,700 L958.5,701.3 L965,702.7 L967.8,702.3 L973.4,698.6 L976.2,698.6 L979.9,695.3 L982.7,695.8 L985,700.9 L991.5,701.8 L993.4,710.6 L996.6,710.2 L1001.3,708.3 L1005.4,711.1 L1010.5,712 L1013.8,710.2 L1016.1,706 L1018.9,704.6 L1023.5,705.5 L1026.8,703.7 L1030,706.9 L1033.3,703.7 L1036.6,702.3 L1044,703.2 L1052.8,701.3 L1056.5,698.1 L1059.3,699.5 L1061.6,702.7 L1072.8,706.9 L1075.6,709.7 L1077.9,707.8 L1084.4,709.7 L1086.7,712 L1089.5,719.5 L1094.6,713.9 L1100.7,722.3 L1104.4,720.9 L1109.5,714.4 L1115.1,715.8 L1120.2,709.7 L1123,714.8 L1127.2,711.6 L1131.8,715.3 L1134.1,712.5 L1137.8,717.2 L1143,712.5 L1148.1,714.8 L1150.4,708.8 L1154.1,707.4 L1160.6,713.9 L1163.9,713.4 L1168,719 L1171.3,716.7 L1176.4,720.4 L1182,719.5 L1188.5,720.9 L1190.8,719.5 L1194,723.2 L1199.6,720.4 L1203.3,720.4 L1208,722.7 L1214,719.5 L1217.3,726.4 L1220,725.5 L1222.8,721.3 L1227.5,722.7 L1233.5,720.4 L1236.8,720.9 L1240.5,718.1 L1245.1,720 L1247.5,700.9 L1249.8,707.9 L1253,706 L1257.2,711.6 L1264.2,709.3 L1267.4,714.4 L1274.4,709.7 L1279.5,713 L1284.8,714.9 L1288.1,714 L1293.4,709.7 L1295.3,703.5 L1297.2,703.5 L1298.6,706.3 L1300.5,687.3 L1303.4,684.9 L1307.7,685.8 L1309.1,672 L1312,671 L1315.8,666.3 L1318.2,650 L1320.6,652.9 L1321,656.2 L1324.4,655.3 L1326.8,674.8 L1332,662.4 L1334.9,661.5 L1338.7,664.4 L1341.1,671 L1345.8,668.6 L1349.7,666.7 L1351.6,680.6 L1355.4,683 L1359.2,688.2 L1363,692 L1365.9,688.7 L1368.7,695.8 L1371.1,691.1 L1374.5,690.6 L1377.3,686.8 L1380.7,692.5 L1383.5,693 L1386.4,688.7 L1388.8,689.6 L1391.6,693.5 L1395.5,690.6 L1400.7,688.7 L1402.6,683.9 L1405.5,691.5 L1411.2,692 L1414.5,689.6 L1417.4,690.6 L1420.3,687.3 L1422.7,690.1 L1425.5,686.3 L1428.9,688.7 L1436.5,702.5 L1441.7,699.2 L1446,700.1 L1448.9,697.3 L1451.8,698.2 L1453.7,702 L1459.4,705.9 L1464.2,703 L1469.9,704.4 L1473.7,703 L1479.3,705.3 L1482.1,711.8 L1488.6,710 L1496,710.4 L1502.5,716 L1507.2,713.7 L1513.7,710.9 L1521.1,710 L1526.7,712.7 L1530.4,710.9 L1533.2,705.3 L1538.3,703.4 L1541.5,706.7 L1544.3,704.4 L1549.4,703.9 L1552.7,707.6 L1558.2,710.4 L1563.8,705.8 L1566.6,709 L1571.7,704.8 L1575.9,705.3 L1580.5,707.6 L1586.6,703 L1592.6,708.1 L1600,707.2 L1606.6,709 L1609.3,704.8 L1612.1,706.7 L1614.9,712.3 L1619.6,709.5 L1626.1,708.1 L1629.8,704.8 L1636.7,703 L1639.1,710.9 L1642.3,711.8 L1648.4,716.4 L1656.7,716.9 L1660.4,713.7 L1667.4,712.8 L1671.6,714.6 L1680,710.4 L1684.6,712.3 L1687.9,708.6 L1696.2,711.8 L1700.9,709.5 L1705.5,710 L1712,713.2 L1715.7,712.3 L1719.5,710.4 L1728.7,714.6 L1732.5,714.6 L1736.2,716.5 L1739.9,713.7 L1744.5,714.2 L1751,712.8 L1753.8,713.7 L1759.4,721.1 L1766.8,723.9 L1770,721.6 L1775.7,721.6 L1781.7,725.8 L1788.2,725.3 L1792.8,725.3 L1795.2,739.2 L1799.3,743.4 L1803.5,739.7 L1812.3,741.6 L1817.9,743.9 L1822.6,740.6 L1826.7,743.4 L1830,739.7 L1834.6,739.7 L1838.4,736.9 L1846.7,742 L1852.8,741.6 L1860.3,743.2 L1866,739.8 L1869.1,744.4 L1877.1,741.7 L1882.8,745.9 L1888.9,740.5 L1895,737.9 L1897.7,739.4 L1903.4,737.5 L1908,740.2 L1916.4,740.5 L1919.8,744.4 L1922.1,742.8 L1925.2,745.9 L1928.6,744.7 L1932.4,745.5 L1937,745.1 L1940.1,747.4 L1945.4,757.7 L1948.5,756.2 L1951.9,758.9 L1956.1,757.7 L1961.5,758.9 L1965.3,755 L1969.8,744.4 L1972.1,745.5 L1976,740.9 L1982.1,739.4 L1987.8,745.1 L1989.7,732.9 L1993.5,731 L1995.8,737.1 L1999.6,739.4 L1999.6,783.5 L24.9,783.5 Z" fill="url(#gf)"/>
<line x1="23.1" y1="783.5" x2="2000" y2="783.5" stroke="#999" stroke-width="2.3" stroke-dasharray="2.3 7.7"/>
<path d="M24.9,782.2 L26.7,748.9 L30.7,735 L34.7,654 L36.8,655.7 L39,668.8 L41.4,660.3 L43.8,553.3 L46,623.6 L49,582.4 L51.5,614.4 L55.1,638.9 L61.2,600.7 L64.3,629.7 L67.4,611.4 L69.5,525.8 L72.5,536.5 L74.4,490.2 L76.5,347 L79.6,304.4 L83.5,189.9 L86.6,228 L89,310.5 L92.7,289 L98,235.7 L101,261.7 L102.5,414.4 L106.2,446.5 L111.7,440.4 L114.7,449.6 L120.2,325.8 L123.3,320.3 L126.3,332 L128.5,379.3 L132.4,380.2 L134.6,414.4 L137,371.6 L140.7,411.4 L143.7,478.6 L146.2,475.5 L151.5,526 L154.2,524.9 L156.5,568.4 L161.8,539.7 L165.2,556.9 L170.9,491.6 L173.9,511.1 L176.7,505.4 L180.1,514.5 L185.8,507.7 L188.6,508.8 L190.9,459.6 L193.8,480.2 L196.6,424 L199.1,468.7 L201.9,460.7 L205.3,483.6 L208.7,485.9 L213.8,468.3 L219,481.3 L225.9,477.9 L232.8,510 L236.2,504.2 L239,516.8 L242,500.8 L247.2,526 L252.3,514.1 L259.1,527.1 L264.9,522.6 L268.3,536.3 L275.2,538.6 L278.6,523.7 L282,521.4 L285.5,532.9 L290,536.3 L295.8,545.5 L299.2,568.4 L302.2,567.2 L306.8,546.6 L311.8,540.9 L323.3,552.3 L326.7,560.4 L332.4,556.9 L335.7,562 L340.9,580.4 L343.5,606.7 L348.9,592.4 L352.3,601 L357.5,610.1 L360.3,610.1 L363.2,621 L368.4,609.6 L371.8,611.3 L375.2,609 L376.9,595.8 L380.4,599.3 L382.9,584.4 L386.1,597.5 L389,599.3 L390.9,580.9 L394.1,584.4 L398.1,584.4 L399.8,575.2 L404.4,576.9 L407.3,580.4 L410.1,596.4 L411.9,597.5 L415.9,594.1 L420.4,595.8 L427.3,595.3 L429.6,593.5 L433.6,601 L438.8,615.9 L442.2,619.9 L445.1,617.6 L447.9,621 L451.4,626.2 L454.2,622.7 L459.4,622.7 L462.2,614.7 L465.1,610.1 L468.5,613 L473.7,621.6 L476.5,612.4 L478.8,614.7 L482.3,611.9 L484.6,598.7 L487.4,594.1 L490.3,592.4 L493.1,589 L496,595.3 L499.4,595.8 L505.2,594.7 L508,589 L511.5,590.1 L514.3,596.4 L518.9,593 L522.9,612 L526.9,615.5 L530.3,612 L532.6,613.8 L535.5,609.5 L538.3,613.8 L544,603.5 L549.8,610.9 L552.6,608 L558.4,615.5 L563.5,616.6 L565.8,608.6 L569.2,607.5 L572.1,604 L577.8,610.3 L586.4,604.6 L591.6,609.8 L599,612.6 L604.1,610.9 L606.4,608 L615,614.3 L617.9,619.5 L620.7,619.5 L623.6,624.1 L628.2,624.1 L633.3,629.2 L637.3,625.8 L642.5,628.1 L645.9,626.4 L648.8,621.8 L651.6,621.2 L654.5,618.9 L662,630.4 L666,632.1 L668.8,636.1 L671.1,641.8 L674,636.1 L679.1,640.1 L685.4,640.1 L690.6,648.7 L696.9,648.7 L699.2,653.8 L702.6,653.3 L704.9,665.3 L710,678.5 L712.3,678.1 L716.5,683.7 L718.8,677.2 L723,675.8 L725.3,678.6 L727.6,668.3 L730.9,669.7 L736,666.5 L741.6,673.9 L743.4,660.4 L747.6,657.6 L749,674.4 L753.2,679.5 L756.4,677.2 L758.8,671.1 L761.6,673 L764.8,670.2 L768.1,677.2 L769.9,701.8 L772.2,695.7 L775.5,698.5 L778.7,694.8 L782,699.5 L784.3,700.4 L787.1,693.9 L793.1,701.8 L795.5,686.4 L798.2,690.6 L804.3,690.6 L807.1,681.3 L809.4,678.6 L812.6,680.9 L815.9,681.3 L821.9,690.2 L823.8,701.8 L829.4,707.8 L834.5,704.6 L840.5,697.1 L844.2,700.8 L849.3,698.1 L854.5,710.1 L859.6,701.8 L862.3,701.3 L868.9,696.2 L873,699 L875.8,697.6 L881.9,690.2 L884.6,687.4 L888.4,679 L891.1,689.2 L894.9,692.5 L898.1,692 L902.8,697.2 L906.5,694.8 L908.8,690.2 L911.6,692 L917.2,690.2 L920,683.2 L922.8,687.9 L926,687.4 L931.1,693.4 L938.1,699 L945,706.9 L947.8,703.2 L953.4,703.7 L956.2,700 L958.5,701.3 L965,702.7 L967.8,702.3 L973.4,698.6 L976.2,698.6 L979.9,695.3 L982.7,695.8 L985,700.9 L991.5,701.8 L993.4,710.6 L996.6,710.2 L1001.3,708.3 L1005.4,711.1 L1010.5,712 L1013.8,710.2 L1016.1,706 L1018.9,704.6 L1023.5,705.5 L1026.8,703.7 L1030,706.9 L1033.3,703.7 L1036.6,702.3 L1044,703.2 L1052.8,701.3 L1056.5,698.1 L1059.3,699.5 L1061.6,702.7 L1072.8,706.9 L1075.6,709.7 L1077.9,707.8 L1084.4,709.7 L1086.7,712 L1089.5,719.5 L1094.6,713.9 L1100.7,722.3 L1104.4,720.9 L1109.5,714.4 L1115.1,715.8 L1120.2,709.7 L1123,714.8 L1127.2,711.6 L1131.8,715.3 L1134.1,712.5 L1137.8,717.2 L1143,712.5 L1148.1,714.8 L1150.4,708.8 L1154.1,707.4 L1160.6,713.9 L1163.9,713.4 L1168,719 L1171.3,716.7 L1176.4,720.4 L1182,719.5 L1188.5,720.9 L1190.8,719.5 L1194,723.2 L1199.6,720.4 L1203.3,720.4 L1208,722.7 L1214,719.5 L1217.3,726.4 L1220,725.5 L1222.8,721.3 L1227.5,722.7 L1233.5,720.4 L1236.8,720.9 L1240.5,718.1 L1245.1,720 L1247.5,700.9 L1249.8,707.9 L1253,706 L1257.2,711.6 L1264.2,709.3 L1267.4,714.4 L1274.4,709.7 L1279.5,713 L1284.8,714.9 L1288.1,714 L1293.4,709.7 L1295.3,703.5 L1297.2,703.5 L1298.6,706.3 L1300.5,687.3 L1303.4,684.9 L1307.7,685.8 L1309.1,672 L1312,671 L1315.8,666.3 L1318.2,650 L1320.6,652.9 L1321,656.2 L1324.4,655.3 L1326.8,674.8 L1332,662.4 L1334.9,661.5 L1338.7,664.4 L1341.1,671 L1345.8,668.6 L1349.7,666.7 L1351.6,680.6 L1355.4,683 L1359.2,688.2 L1363,692 L1365.9,688.7 L1368.7,695.8 L1371.1,691.1 L1374.5,690.6 L1377.3,686.8 L1380.7,692.5 L1383.5,693 L1386.4,688.7 L1388.8,689.6 L1391.6,693.5 L1395.5,690.6 L1400.7,688.7 L1402.6,683.9 L1405.5,691.5 L1411.2,692 L1414.5,689.6 L1417.4,690.6 L1420.3,687.3 L1422.7,690.1 L1425.5,686.3 L1428.9,688.7 L1436.5,702.5 L1441.7,699.2 L1446,700.1 L1448.9,697.3 L1451.8,698.2 L1453.7,702 L1459.4,705.9 L1464.2,703 L1469.9,704.4 L1473.7,703 L1479.3,705.3 L1482.1,711.8 L1488.6,710 L1496,710.4 L1502.5,716 L1507.2,713.7 L1513.7,710.9 L1521.1,710 L1526.7,712.7 L1530.4,710.9 L1533.2,705.3 L1538.3,703.4 L1541.5,706.7 L1544.3,704.4 L1549.4,703.9 L1552.7,707.6 L1558.2,710.4 L1563.8,705.8 L1566.6,709 L1571.7,704.8 L1575.9,705.3 L1580.5,707.6 L1586.6,703 L1592.6,708.1 L1600,707.2 L1606.6,709 L1609.3,704.8 L1612.1,706.7 L1614.9,712.3 L1619.6,709.5 L1626.1,708.1 L1629.8,704.8 L1636.7,703 L1639.1,710.9 L1642.3,711.8 L1648.4,716.4 L1656.7,716.9 L1660.4,713.7 L1667.4,712.8 L1671.6,714.6 L1680,710.4 L1684.6,712.3 L1687.9,708.6 L1696.2,711.8 L1700.9,709.5 L1705.5,710 L1712,713.2 L1715.7,712.3 L1719.5,710.4 L1728.7,714.6 L1732.5,714.6 L1736.2,716.5 L1739.9,713.7 L1744.5,714.2 L1751,712.8 L1753.8,713.7 L1759.4,721.1 L1766.8,723.9 L1770,721.6 L1775.7,721.6 L1781.7,725.8 L1788.2,725.3 L1792.8,725.3 L1795.2,739.2 L1799.3,743.4 L1803.5,739.7 L1812.3,741.6 L1817.9,743.9 L1822.6,740.6 L1826.7,743.4 L1830,739.7 L1834.6,739.7 L1838.4,736.9 L1846.7,742 L1852.8,741.6 L1860.3,743.2 L1866,739.8 L1869.1,744.4 L1877.1,741.7 L1882.8,745.9 L1888.9,740.5 L1895,737.9 L1897.7,739.4 L1903.4,737.5 L1908,740.2 L1916.4,740.5 L1919.8,744.4 L1922.1,742.8 L1925.2,745.9 L1928.6,744.7 L1932.4,745.5 L1937,745.1 L1940.1,747.4 L1945.4,757.7 L1948.5,756.2 L1951.9,758.9 L1956.1,757.7 L1961.5,758.9 L1965.3,755 L1969.8,744.4 L1972.1,745.5 L1976,740.9 L1982.1,739.4 L1987.8,745.1 L1989.7,732.9 L1993.5,731 L1995.8,737.1 L1999.6,739.4" fill="none" stroke="#16c784" stroke-width="5" stroke-linejoin="round" stroke-linecap="butt"/>
<rect x="25.2" y="782.3" width="1.9" height="2.2" fill="#f07f86"/>
<rect x="31" y="757" width="110" height="50" fill="#fff" fill-opacity="0.92"/>
<text x="38.0" y="798" font-size="29.5" font-weight="normal" fill="#58667e" stroke="#58667e" stroke-width="0.2" textLength="94.23" lengthAdjust="spacing">8.5936</text>
<text x="2016.0" y="235.3" font-size="28.8" font-weight="normal" fill="#808a9d" stroke="#808a9d" stroke-width="0.2" textLength="57.36" lengthAdjust="spacing">70.0</text>
<text x="2016.0" y="327.6" font-size="28.8" font-weight="normal" fill="#808a9d" stroke="#808a9d" stroke-width="0.2" textLength="58.56" lengthAdjust="spacing">60.0</text>
<text x="2015.8" y="418.2" font-size="28.8" font-weight="normal" fill="#808a9d" stroke="#808a9d" stroke-width="0.2" textLength="58.66" lengthAdjust="spacing">50.0</text>
<text x="2015.8" y="508.2" font-size="28.8" font-weight="normal" fill="#808a9d" stroke="#808a9d" stroke-width="0.2" textLength="59.26" lengthAdjust="spacing">40.0</text>
<text x="2015.8" y="597.8" font-size="28.8" font-weight="normal" fill="#808a9d" stroke="#808a9d" stroke-width="0.2" textLength="58.96" lengthAdjust="spacing">30.0</text>
<text x="2015.9" y="690.3" font-size="28.8" font-weight="normal" fill="#808a9d" stroke="#808a9d" stroke-width="0.2" textLength="58.86" lengthAdjust="spacing">20.0</text>
<text x="2028.7" y="779.6" font-size="28.8" font-weight="normal" fill="#808a9d" stroke="#808a9d" stroke-width="0.2" textLength="41.45" lengthAdjust="spacing">0.0</text>
<path d="M2025.00,759.30 L2025.00,779.60 L2022.00,779.60 L2022.00,762.85 L2016.80,765.55 L2016.80,762.57 L2022.10,759.30 Z" fill="#808a9d"/>
<rect x="2000" y="705.5" width="85" height="64" rx="7" fill="#16c784"/>
<text x="2029.0" y="747.8" font-size="29" font-weight="normal" fill="#fff" stroke="#fff" stroke-width="0.8" textLength="42.13" lengthAdjust="spacing">3.4</text>
<path d="M2025.60,727.00 L2025.60,748.00 L2021.80,748.00 L2021.80,730.67 L2016.35,733.47 L2016.35,730.38 L2021.90,727.00 Z" fill="#fff"/>
<text x="2032.1" y="993" font-size="31" font-weight="bold" fill="#808a9d" textLength="64.25" lengthAdjust="spacing">USD</text>
<text x="53.0" y="1038" font-size="28.5" font-weight="normal" fill="#808a9d" stroke="#808a9d" stroke-width="0.2" textLength="87.88" lengthAdjust="spacing">20 Jan</text>
<text x="422.8" y="1038" font-size="28.5" font-weight="normal" fill="#808a9d" stroke="#808a9d" stroke-width="0.2" textLength="45.4" lengthAdjust="spacing">Jan</text>
<text x="718.0" y="1038" font-size="28.5" font-weight="normal" fill="#808a9d" stroke="#808a9d" stroke-width="0.2" textLength="72.39" lengthAdjust="spacing">3 Feb</text>
<text x="1052.8" y="1038" font-size="28.5" font-weight="normal" fill="#808a9d" stroke="#808a9d" stroke-width="0.2" textLength="71.99" lengthAdjust="spacing">0 Feb</text>
<text x="1405.05" y="1038" font-size="28.5" font-weight="normal" fill="#808a9d" stroke="#808a9d" stroke-width="0.2" textLength="48.17" lengthAdjust="spacing">Feb</text>
<text x="1696.0" y="1038" font-size="28.5" font-weight="normal" fill="#808a9d" stroke="#808a9d" stroke-width="0.2" textLength="88.73" lengthAdjust="spacing">24 Feb</text>
<path d="M1048.90,1017.40 L1048.90,1037.90 L1046.10,1037.90 L1046.10,1020.99 L1040.80,1023.71 L1040.80,1020.70 L1046.20,1017.40 Z" fill="#808a9d"/>
<path d="M1377.80,1017.40 L1377.80,1037.90 L1375.00,1037.90 L1375.00,1020.99 L1369.80,1023.71 L1369.80,1020.70 L1375.10,1017.40 Z" fill="#808a9d"/>
<text x="382.3" y="1038" font-size="28.5" font-weight="normal" fill="#808a9d" stroke="#808a9d" stroke-width="0.2" textLength="15.16" lengthAdjust="spacingAndGlyphs">2</text>
<path d="M399.60,1017.60 L412.80,1017.60 L412.80,1019.90 L404.00,1037.90 L401.00,1037.90 L409.65,1019.90 L399.60,1019.90 Z" fill="#808a9d"/>
<path d="M1382.70,1017.60 L1395.90,1017.60 L1395.90,1019.90 L1387.30,1037.90 L1384.00,1037.90 L1392.44,1019.90 L1382.70,1019.90 Z" fill="#808a9d"/>
<path d="M155.9,1045 L159,1048 L152.8,1048 Z" fill="#16c784"/>
<path d="M1285.9,1045 L1289,1048 L1282.8,1048 Z" fill="#f5b97f"/>
</svg></body></html>
